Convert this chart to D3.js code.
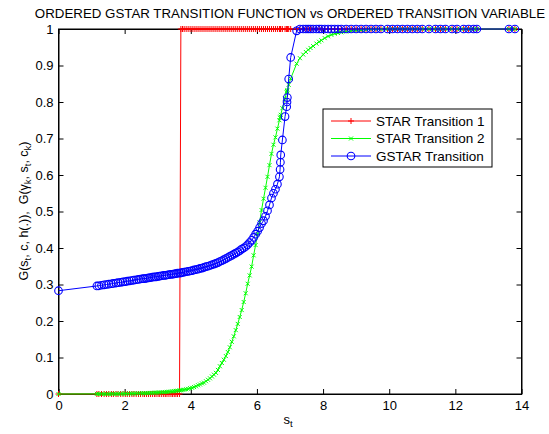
<!DOCTYPE html>
<html>
<head>
<meta charset="utf-8">
<script src="https://cdn.jsdelivr.net/npm/d3@7"></script>
<style>
body { margin: 0; background: #fff; }
svg { font-family: "Liberation Sans", Arial, Helvetica, sans-serif; }
.axis text { font-size: 13px; fill: #000; }
.axis path, .axis line { stroke: #000; }
</style>
</head>
<body>
<script>
// ordered transition variable s_t (shared by all three series)
const sT = [0, 1.16, 1.22, 1.30, 1.38, 1.45, 1.52, 1.60, 1.66, 1.74, 1.80, 1.88, 1.95,
  2.02, 2.08, 2.15, 2.22, 2.28, 2.35, 2.42, 2.48, 2.55, 2.60, 2.66, 2.72, 2.78, 2.84, 2.90, 2.95,
  3.01, 3.06, 3.12, 3.18, 3.23, 3.28, 3.34, 3.40, 3.45, 3.50, 3.55, 3.60, 3.66,
  3.70, 3.75, 3.80, 3.86, 3.92, 3.98, 4.04, 4.10, 4.16, 4.22, 4.28, 4.34, 4.40, 4.46, 4.52, 4.58,
  4.64, 4.70, 4.76, 4.82, 4.88, 4.94, 5.00, 5.06, 5.12, 5.18, 5.24, 5.30, 5.36, 5.42, 5.48, 5.54,
  5.60, 5.66, 5.72, 5.78, 5.84, 5.90, 5.96, 6.02, 6.08, 6.14, 6.20, 6.26, 6.32, 6.38, 6.44, 6.50,
  6.56, 6.62, 6.68, 6.70, 6.71, 6.72, 6.77, 6.85, 6.90, 6.91, 6.92, 6.96, 7.02, 7.20,
  7.30, 7.40, 7.48, 7.55, 7.62, 7.70, 7.80, 7.88, 7.95, 8.05, 8.15, 8.25, 8.35, 8.45, 8.55,
  8.70, 8.85, 9.00, 9.15, 9.30, 9.45, 9.60, 9.75, 9.95, 10.10, 10.25, 10.40, 10.55, 10.70,
  10.85, 11.00, 11.20, 11.40, 11.55, 11.70, 11.90, 12.05, 12.25, 12.40, 12.55, 12.65, 13.62, 13.80];

// STAR transition 1 (step at c ~ 3.68)
const star1 = [0, 0, 0, 0, 0, 0, 0, 0, 0, 0, 0, 0, 0,
  0, 0, 0, 0, 0, 0, 0, 0, 0, 0, 0, 0, 0, 0, 0, 0,
  0, 0, 0, 0, 0, 0, 0, 0, 0, 0, 0, 0, 0,
  1, 1, 1, 1, 1, 1, 1, 1, 1, 1, 1, 1, 1, 1, 1, 1,
  1, 1, 1, 1, 1, 1, 1, 1, 1, 1, 1, 1, 1, 1, 1, 1,
  1, 1, 1, 1, 1, 1, 1, 1, 1, 1, 1, 1, 1, 1, 1, 1,
  1, 1, 1, 1, 1, 1, 1, 1, 1, 1, 1, 1, 1, 1,
  1, 1, 1, 1, 1, 1, 1, 1, 1, 1, 1, 1, 1, 1, 1,
  1, 1, 1, 1, 1, 1, 1, 1, 1, 1, 1, 1, 1, 1,
  1, 1, 1, 1, 1, 1, 1, 1, 1, 1, 1, 1, 1, 1];

// STAR transition 2
const star2 = [0, .0003, .0003, .0004, .0004, .0005, .0005, .0006, .0006, .0007, .0008, .0009, .001,
  .001, .0011, .0012, .0013, .0014, .0016, .0018, .002, .002, .0022, .0024, .0027, .003, .0032, .0035, .0038,
  .004, .0043, .0047, .005, .0054, .0058, .0063, .0068, .0073, .008, .0085, .009, .0098,
  .0104, .011, .0118, .013, .014, .016, .017, .019, .021, .024, .026, .029, .031, .035, .039, .043,
  .048, .053, .058, .066, .076, .085, .094, .104, .115, .128, .143, .158, .175, .192, .211, .230,
  .252, .276, .302, .325, .349, .38, .408, .438, .47, .504, .535, .565, .595, .627, .658, .683,
  .703, .727, .75, .757, .76, .765, .783, .81, .827, .83, .833, .847, .864, .905,
  .92, .93, .937, .943, .948, .953, .96, .965, .969, .975, .98, .984, .987, .989, .991,
  .993, .995, .996, .997, .998, .999, .999, .999, 1, 1, 1, 1, 1, 1,
  1, 1, 1, 1, 1, 1, 1, 1, 1, 1, 1, 1, 1, 1];

// GSTAR transition
const gstar = [.283, .296, .2965, .298, .299, .300, .301, .302, .303, .304, .305, .306, .307,
  .308, .309, .310, .311, .312, .313, .314, .315, .316, .316, .317, .318, .319, .320, .321, .321,
  .322, .323, .324, .325, .325, .326, .327, .328, .328, .329, .330, .331, .331,
  .332, .333, .334, .335, .336, .337, .338, .340, .341, .342, .344, .345, .347, .349, .350, .352,
  .354, .356, .358, .360, .363, .365, .368, .371, .374, .377, .380, .383, .386, .389, .393, .397,
  .400, .404, .409, .415, .421, .429, .438, .446, .456, .467, .475, .487, .502, .518, .537, .550,
  .561, .575, .595, .615, .635, .655, .696, .760, .787, .800, .812, .863, .922, .995,
  1, 1, 1, 1, 1, 1, 1, 1, 1, 1, 1, 1, 1, 1, 1,
  1, 1, 1, 1, 1, 1, 1, 1, 1, 1, 1, 1, 1, 1,
  1, 1, 1, 1, 1, 1, 1, 1, 1, 1, 1, 1, 1, 1];

const xTicks = [0, 2, 4, 6, 8, 10, 12, 14];
const yTicks = [0, 0.1, 0.2, 0.3, 0.4, 0.5, 0.6, 0.7, 0.8, 0.9, 1];
const legendNames = ["STAR Transition 1", "STAR Transition 2", "GSTAR Transition"];

const W = 549, H = 434;
const plot = {left: 58.5, right: 521.5, top: 29, bottom: 394};

const svg = d3.select("body").append("svg")
  .attr("width", W)
  .attr("height", H);

const x = d3.scaleLinear().domain([0, 14]).range([plot.left, plot.right]);
const y = d3.scaleLinear().domain([0, 1]).range([plot.bottom, plot.top]);

const fmt = d => d3.format("")(+d.toFixed(1));

// axes, ticks pointing inward
svg.append("g").attr("class", "axis")
  .attr("transform", "translate(0," + plot.bottom + ")")
  .call(d3.axisBottom(x).tickValues(xTicks).tickSizeInner(-5).tickSizeOuter(0).tickPadding(7).tickFormat(fmt));
svg.append("g").attr("class", "axis")
  .attr("transform", "translate(0," + plot.top + ")")
  .call(d3.axisTop(x).tickValues(xTicks).tickSizeInner(-5).tickSizeOuter(0).tickFormat(""));
svg.append("g").attr("class", "axis")
  .attr("transform", "translate(" + plot.left + ",0)")
  .call(d3.axisLeft(y).tickValues(yTicks).tickSizeInner(-5).tickSizeOuter(0).tickPadding(5).tickFormat(fmt));
svg.append("g").attr("class", "axis")
  .attr("transform", "translate(" + plot.right + ",0)")
  .call(d3.axisRight(y).tickValues(yTicks).tickSizeInner(-5).tickSizeOuter(0).tickFormat(""));

svg.append("rect")
  .attr("x", plot.left).attr("y", plot.top)
  .attr("width", plot.right - plot.left).attr("height", plot.bottom - plot.top)
  .attr("fill", "none").attr("stroke", "#000");

const line = d3.line().x(d => x(d[0])).y(d => y(d[1]));
const series = [
  {name: legendNames[0], vals: star1, color: "#ff0000", marker: "plus"},
  {name: legendNames[1], vals: star2, color: "#00ff00", marker: "cross"},
  {name: legendNames[2], vals: gstar, color: "#0000ff", marker: "circle"},
];

function drawMarker(g, type, color) {
  if (type === "circle") {
    g.append("circle").attr("r", 3.8).attr("fill", "none").attr("stroke", color).attr("stroke-width", 1.1);
  } else if (type === "plus") {
    g.append("path").attr("d", "M-3,0H3M0,-3V3").attr("stroke", color).attr("stroke-width", 1);
  } else {
    g.append("path").attr("d", "M-2,-2L2,2M-2,2L2,-2").attr("stroke", color).attr("stroke-width", 1);
  }
}

series.forEach(s => {
  const pts = sT.map((v, i) => [v, s.vals[i]]);
  const g = svg.append("g");
  g.append("path")
    .attr("d", line(pts))
    .attr("fill", "none")
    .attr("stroke", s.color)
    .attr("stroke-width", 1);
  g.selectAll(".m")
    .data(pts)
    .enter().append("g")
    .attr("transform", d => "translate(" + x(d[0]) + "," + y(d[1]) + ")")
    .each(function() { drawMarker(d3.select(this), s.marker, s.color); });
});

// title
svg.append("text")
  .attr("x", 290).attr("y", 18)
  .attr("text-anchor", "middle")
  .style("font-size", "13.3px")
  .text("ORDERED GSTAR TRANSITION FUNCTION vs ORDERED TRANSITION VARIABLE");

// x label
const xl = svg.append("text")
  .attr("x", 288).attr("y", 424)
  .attr("text-anchor", "middle")
  .style("font-size", "13px");
xl.append("tspan").text("s");
xl.append("tspan").attr("dy", 3).style("font-size", "9.5px").text("t");

// y label
const yl = svg.append("text")
  .attr("transform", "translate(28,211) rotate(-90)")
  .attr("text-anchor", "middle")
  .style("font-size", "12.5px");
const parts = [["G(s", 0], ["t", 1], [", c, h(.)),  G(γ", 0], ["k", 1], [", s", 0], ["t", 1], [", c", 0], ["k", 1], [")", 0]];
let sub = 0;
parts.forEach(p => {
  const t = yl.append("tspan").text(p[0]).attr("xml:space", "preserve");
  if (p[1] !== sub) t.attr("dy", p[1] ? 3 : -3);
  if (p[1]) t.style("font-size", "9.5px");
  sub = p[1];
});

// legend
const lg = svg.append("g");
lg.append("rect")
  .attr("x", 323).attr("y", 109).attr("width", 169).attr("height", 58)
  .attr("fill", "#fff").attr("stroke", "#000");
series.forEach((s, i) => {
  const ly = 121 + i * 17.5;
  lg.append("line").attr("x1", 331).attr("x2", 371).attr("y1", ly).attr("y2", ly)
    .attr("stroke", s.color).attr("stroke-width", 1);
  const m = lg.append("g").attr("transform", "translate(351," + ly + ")");
  drawMarker(m, s.marker, s.color);
  lg.append("text").attr("x", 376).attr("y", ly + 4.5)
    .style("font-size", "13.5px").text(s.name);
});
</script>
</body>
</html>
